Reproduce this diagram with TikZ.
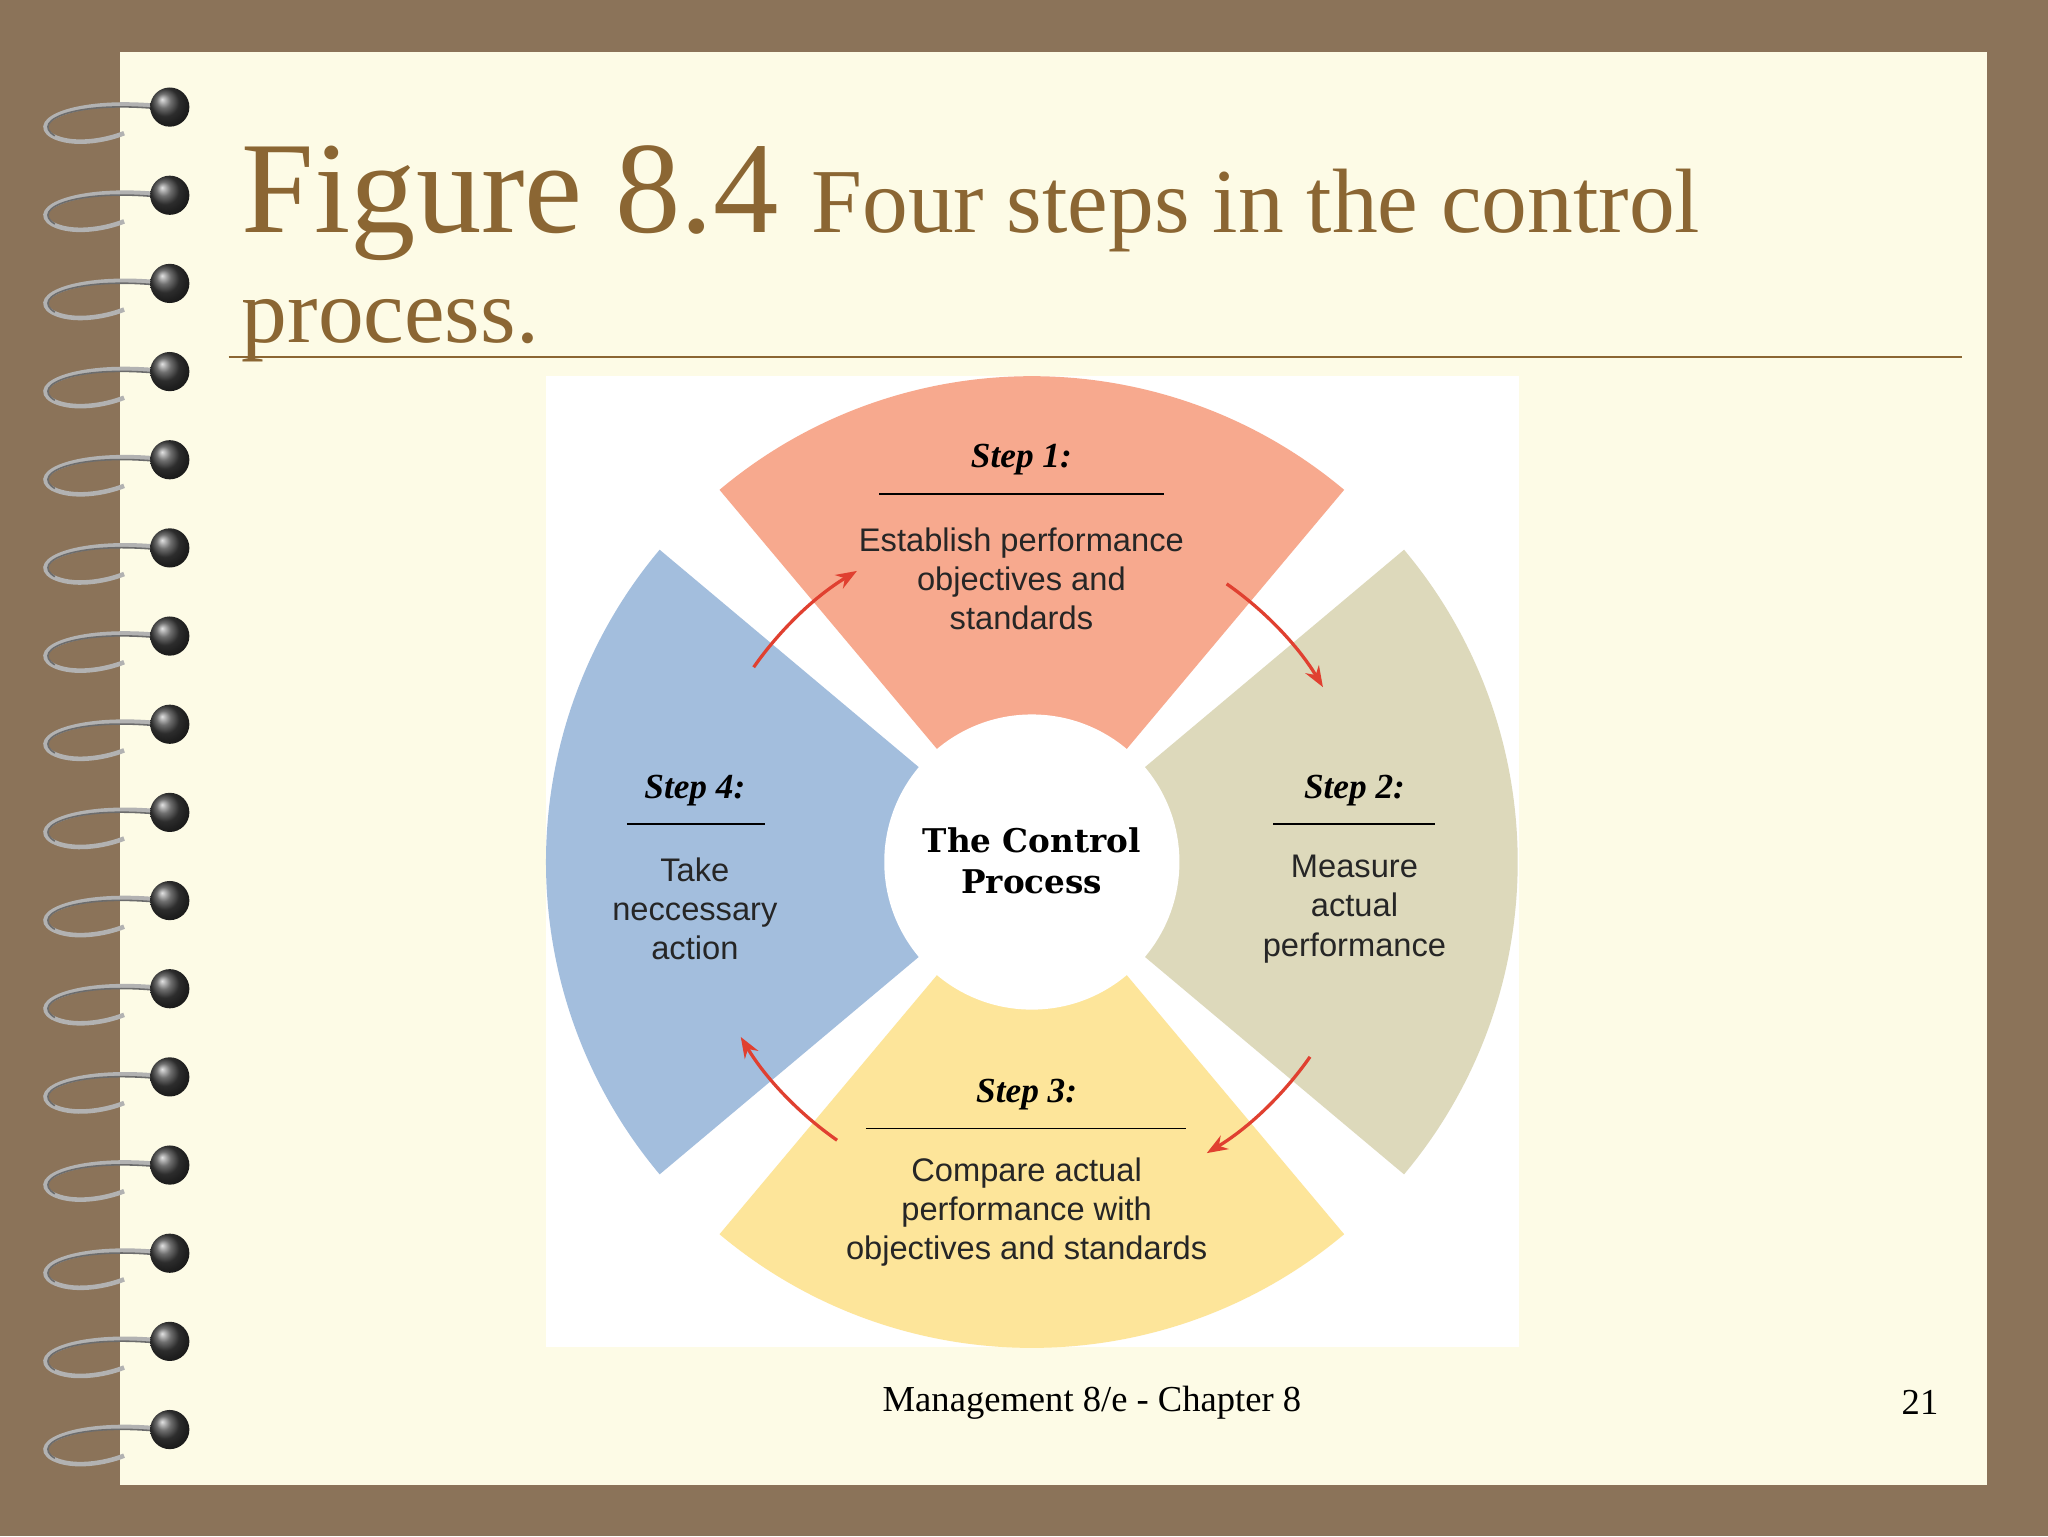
\documentclass[tikz,border=0pt]{standalone}
\usepackage{fontspec}
\setmainfont{Liberation Serif}
\newfontfamily\sansf{Liberation Sans}
\newfontfamily\slab{DejaVu Serif}
\usetikzlibrary{arrows.meta,calc}
\definecolor{bgbrown}{HTML}{8B7359}
\definecolor{page}{HTML}{FDFBE6}
\definecolor{titlec}{HTML}{8B6633}
\definecolor{sone}{HTML}{F7A98E}
\definecolor{stwo}{HTML}{DDD9BB}
\definecolor{sthree}{HTML}{FDE59A}
\definecolor{sfour}{HTML}{A3BEDD}
\definecolor{arr}{HTML}{E04030}
\tikzset{
  steplbl/.style={font=\fontsize{27}{30}\selectfont\bfseries\itshape, text=black},
  body/.style={font=\sansf\fontsize{25}{30}\selectfont, align=center, text=black!85},
  cyc/.style={arr, line width=2.5pt, -{Stealth[length=16pt,width=12pt]}},
  rulel/.style={line width=1.5pt, black}
}
\begin{document}
\begin{tikzpicture}[x=1pt,y=1pt]
\useasboundingbox (0,0) rectangle (1568,1176);
\fill[bgbrown] (0,0) rectangle (1568,1176);
\fill[page] (92,39) rectangle (1521,1136);
% spiral
\foreach \k in {0,...,15}{
  \pgfmathsetmacro\yy{1094-67.5*\k}
  \draw[gray!60, line width=3.5pt] (128,\yy) .. controls (60,\yy+8) and (20,\yy-10) .. (40,\yy-22) .. controls (55,\yy-30) and (80,\yy-26) .. (95,\yy-20);
  \draw[gray!85!black, line width=1.2pt] (128,\yy-2) .. controls (60,\yy+6) and (22,\yy-10) .. (42,\yy-22);
  \shade[ball color=gray!50!black] (130,\yy) circle (15);
}
% title
\node[anchor=base west, text=titlec, inner sep=0] (title) at (185,998) {\fontsize{100}{100}\selectfont Figure 8.4 \fontsize{70}{70}\selectfont Four steps in the control};
\node[anchor=base west, text=titlec, inner sep=0] (title2) at (185,914) {\fontsize{70}{70}\selectfont process.};
\draw[titlec, line width=1.5pt] (175,903) -- (1502,903);
% figure
\fill[white] (418,145) rectangle (1163,888);
\coordinate (c) at (790,516);
\fill[sone] (c) -- ++(50:372) arc[start angle=50,end angle=130,radius=372] -- cycle;
\fill[stwo] (c) -- ++(-40:372) arc[start angle=-40,end angle=40,radius=372] -- cycle;
\fill[sthree] (c) -- ++(230:372) arc[start angle=230,end angle=310,radius=372] -- cycle;
\fill[sfour] (c) -- ++(140:372) arc[start angle=140,end angle=220,radius=372] -- cycle;
\fill[white] (c) circle (113);
\node[font=\slab\bfseries\fontsize{25}{31}\selectfont, align=center] (center) at (790,517) {The Control\\Process};
% step 1
\node[steplbl] (s1) at (782,824) {Step 1:};
\draw[rulel] (673,798) -- (891,798);
\node[body] (b1) at (782,733) {Establish performance\\objectives and\\standards};
% step 2
\node[steplbl] (s2) at (1037,571) {Step 2:};
\draw[rulel] (975,545) -- (1099,545);
\node[body] (b2) at (1037,480) {Measure\\actual\\performance};
% step 3
\node[steplbl] (s3) at (786,338) {Step 3:};
\draw[rulel] (663,312) -- (908,312);
\node[body] (b3) at (786,248) {Compare actual\\performance with\\objectives and standards};
% step 4
\node[steplbl] (s4) at (532,571) {Step 4:};
\draw[rulel] (480,545) -- (586,545);
\node[body] (b4) at (532,480) {Take\\neccessary\\action};
% arrows
\draw[cyc] ($(c)+(145:260)$) arc[start angle=145,end angle=121,radius=260];
\draw[cyc] ($(c)+(55:260)$) arc[start angle=55,end angle=31,radius=260];
\draw[cyc] ($(c)+(-35:260)$) arc[start angle=-35,end angle=-59,radius=260];
\draw[cyc] ($(c)+(-125:260)$) arc[start angle=-125,end angle=-149,radius=260];
% footer
\node[font=\fontsize{28}{30}\selectfont] (foot) at (836,102) {Management 8/e - Chapter 8};
\node[font=\fontsize{28}{30}\selectfont] (num) at (1470,102) {21};
\end{tikzpicture}
\end{document}
